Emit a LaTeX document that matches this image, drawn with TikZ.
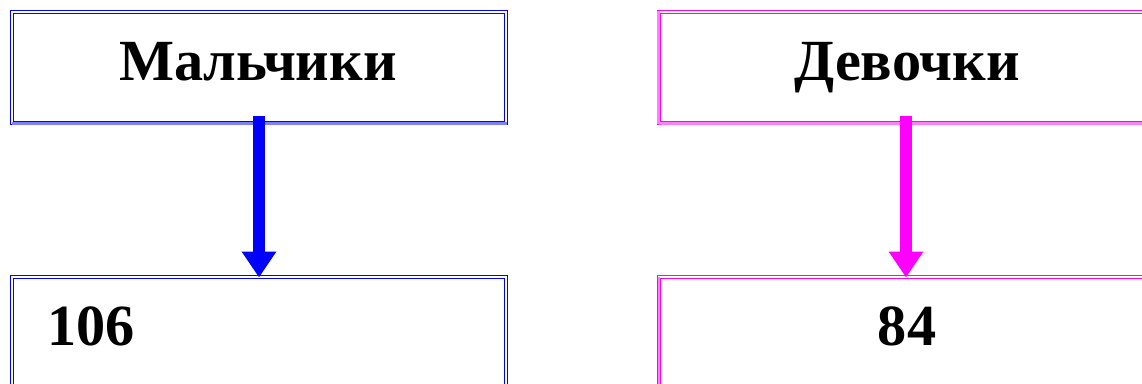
\documentclass[tikz,border=0pt]{standalone}
\usepackage{fontspec}
\setmainfont{Liberation Serif}
\usetikzlibrary{arrows.meta}
\definecolor{bl}{RGB}{0,0,255}
\definecolor{bllight}{RGB}{128,128,255}
\definecolor{mg}{RGB}{255,0,255}
\definecolor{mglight}{RGB}{255,128,255}
\tikzset{
  boxstyle/.style={draw=#1, double=white, line width=1bp, double distance=1.5bp, inner sep=0pt, anchor=north west},
  lbl/.style={font=\fontsize{58.5}{60}\selectfont\bfseries, inner sep=0pt, anchor=base},
  arr/.style={draw=#1, line width=12bp, -{Triangle[width=33bp,length=26bp]}, shorten <=-8bp, shorten >=-1bp}
}
\begin{document}
\begin{tikzpicture}[x=1bp,y=1bp]
\useasboundingbox (0,0) rectangle (1142,383);
\clip (0,0) rectangle (1142,383);
% top boxes
\node[boxstyle=bl, minimum width=494bp, minimum height=111bp] (mb) at (11.5,371.5) {};
\node[boxstyle=mg, minimum width=494bp, minimum height=111bp] (db) at (658.5,371.5) {};
% light bottom / side accents
\draw[bllight, line width=3bp] (mb.south west) -- (mb.south east);
\draw[mglight, line width=3bp] (db.south west) -- (db.south east);
\draw[mglight, line width=3bp] (db.south west) -- (db.north west);
% bottom boxes
\node[boxstyle=bl, minimum width=494bp, minimum height=150bp] (nb) at (11.5,106.5) {};
\node[boxstyle=mg, minimum width=494bp, minimum height=150bp] (gb) at (658.5,106.5) {};
\draw[mglight, line width=2bp] (gb.north west) -- (gb.south west);
% labels
\node[lbl] (mt) at (258,303) {Мальчики};
\node[lbl] (dt) at (907,303) {Девочки};
\node[lbl, anchor=base west] (nt) at (47,38) {106};
\node[lbl] (gt) at (907,38) {84};
% arrows
\draw[arr=bl] (mb.south) -- (nb.north);
\draw[arr=mg] (db.south) -- (gb.north);
\end{tikzpicture}
\end{document}
